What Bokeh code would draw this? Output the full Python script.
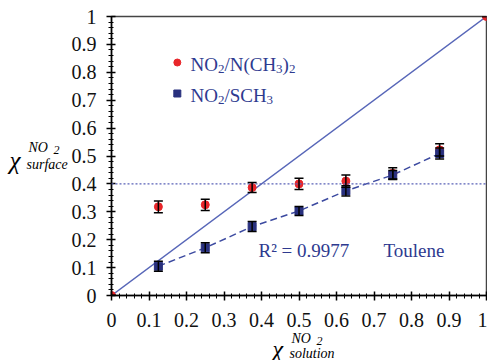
import numpy as np
from bokeh.plotting import figure
from bokeh.layouts import row, column
from bokeh.models import (Range1d, FixedTicker, ColumnDataSource, Whisker, TeeHead, Label, Span)
from bokeh.embed import file_html
from bokeh.resources import INLINE

# ---- data ----
x_red = [0.0, 0.125, 0.25, 0.375, 0.5, 0.625, 0.75, 0.875, 1.0]
y_red = [0.0, 0.318, 0.325, 0.387, 0.400, 0.410, 0.438, 0.522, 1.0]
err_red = [0.0, 0.021, 0.020, 0.018, 0.020, 0.022, 0.020, 0.022, 0.0]

x_blue = [0.125, 0.25, 0.375, 0.5, 0.625, 0.75, 0.875]
y_blue = [0.105, 0.171, 0.247, 0.303, 0.375, 0.432, 0.509]
err_blue = [0.018, 0.018, 0.018, 0.016, 0.018, 0.016, 0.020]

ideal_x = [0.0, 1.0]
ideal_y = [0.0, 1.0]
ref_level = 0.4

x_ticks = [0.0, 0.1, 0.2, 0.3, 0.4, 0.5, 0.6, 0.7, 0.8, 0.9, 1.0]
x_tick_labels = ["0", "0.1", "0.2", "0.3", "0.4", "0.5", "0.6", "0.7", "0.8", "0.9", "1"]
y_ticks = [0.0, 0.1, 0.2, 0.3, 0.4, 0.5, 0.6, 0.7, 0.8, 0.9, 1.0]
y_tick_labels = ["0", "0.1", "0.2", "0.3", "0.4", "0.5", "0.6", "0.7", "0.8", "0.9", "1"]

r2_text = "R\u00b2 = 0.9977"
solvent_text = "Toulene"

# ---- layout ----
W, H = 487, 360
YL_W = 68            # strip for the y title
XL_H = 30            # strip for the x title
MW, MH = W - YL_W, H - XL_H
L, R, T, B = 110 - YL_W, 1, 16, MH - 295
FW, FH = MW - L - R, MH - T - B

SERIF = "Liberation Serif"
NAVY = "#2e3a8f"
LINE_BLUE = "#5766b8"
RED = "#e8262a"
SQ_BLUE = "#28307e"

p = figure(width=MW, height=MH, output_backend="svg", toolbar_location=None,
           x_range=Range1d(0, 1), y_range=Range1d(0, 1),
           min_border_left=L, min_border_right=R, min_border_top=T, min_border_bottom=B)
p.grid.visible = False
p.background_fill_color = "white"
p.border_fill_color = "white"
p.outline_line_color = "#444444"
p.outline_line_width = 1.5

minor = [round(v, 2) for v in np.arange(0, 1.001, 0.02)]
p.xaxis.ticker = FixedTicker(ticks=x_ticks, minor_ticks=minor)
p.yaxis.ticker = FixedTicker(ticks=y_ticks, minor_ticks=minor)
p.xaxis.major_label_overrides = dict(zip(x_ticks, x_tick_labels))
p.yaxis.major_label_overrides = dict(zip(y_ticks, y_tick_labels))
for ax in (p.xaxis[0], p.yaxis[0]):
    ax.axis_line_color = "black"
    ax.axis_line_width = 1.5
    ax.major_tick_line_color = "black"
    ax.minor_tick_line_color = "black"
    ax.major_tick_line_width = 1.5
    ax.minor_tick_line_width = 1
    ax.major_tick_in = 4
    ax.major_tick_out = 5
    ax.minor_tick_in = 2
    ax.minor_tick_out = 3
    ax.major_label_text_font = SERIF
    ax.major_label_text_font_size = "20px"
    ax.major_label_text_color = "#111111"
p.xaxis.major_label_standoff = 12
p.yaxis.major_label_standoff = 10

# reference lines
p.line(ideal_x, ideal_y, line_color=LINE_BLUE, line_width=1.5)
p.add_layout(Span(location=ref_level, dimension="width", line_color="#5a62b8",
                  line_width=1.2, line_dash="2 2"))
p.line(x_blue, y_blue, line_color="#3c4aa0", line_width=1.5, line_dash="7 4")

# points and error bars
src_r = ColumnDataSource(dict(x=x_red, y=y_red,
                              up=[a + e for a, e in zip(y_red, err_red)],
                              lo=[a - e for a, e in zip(y_red, err_red)]))
src_b = ColumnDataSource(dict(x=x_blue, y=y_blue,
                              up=[a + e for a, e in zip(y_blue, err_blue)],
                              lo=[a - e for a, e in zip(y_blue, err_blue)]))

p.scatter("x", "y", source=src_r, marker="circle", size=8, fill_color=RED, line_color=RED)
p.scatter("x", "y", source=src_b, marker="square", size=8, fill_color=SQ_BLUE, line_color=SQ_BLUE)
for s in (src_r, src_b):
    p.add_layout(Whisker(source=s, base="x", upper="up", lower="lo", dimension="height",
                         line_color="black", line_width=1.5, level="overlay",
                         upper_head=TeeHead(size=9, line_color="black", line_width=1.5),
                         lower_head=TeeHead(size=9, line_color="black", line_width=1.5)))


def dx(px):
    return (px - 110) / FW


def dy(py):
    return (295 - py) / FH


def txt(fig, s, px, py, size, color=NAVY, style="normal", ox=0, oy=0):
    fig.add_layout(Label(x=px - ox, y=py - oy, x_units="canvas", y_units="canvas", text=s,
                         text_font=SERIF, text_font_size=f"{size}px", text_color=color,
                         text_font_style=style, text_align="left", level="overlay",
                         text_baseline="alphabetic"))


# legend (page pixel positions; main figure starts at x = YL_W)
leg = ColumnDataSource(dict(x=[dx(176), dx(176)], y=[dy(62), dy(93)],
                            c=[RED, SQ_BLUE], m=["circle", "square"]))
p.scatter("x", "y", source=leg, marker="m", size=7, fill_color="c", line_color="c")

b1, b2 = 64, 95
x0 = 190
o = YL_W
txt(p, "NO", x0, b1, 19, ox=o)
txt(p, "2", x0 + 27.4, b1 + 4, 13, ox=o)
txt(p, "/N(CH", x0 + 33.9, b1, 19, ox=o)
txt(p, "3", x0 + 85.6, b1 + 4, 13, ox=o)
txt(p, ")", x0 + 92.1, b1, 19, ox=o)
txt(p, "2", x0 + 98.4, b1 + 4, 13, ox=o)

txt(p, "NO", x0, b2, 19, ox=o)
txt(p, "2", x0 + 27.4, b2 + 4, 13, ox=o)
txt(p, "/SCH", x0 + 33.9, b2, 19, ox=o)
txt(p, "3", x0 + 76.1, b2 + 4, 13, ox=o)

txt(p, r2_text, 258, 250, 19, ox=o)
txt(p, solvent_text, 383, 250, 19, ox=o)

# y title strip
fy = figure(width=YL_W, height=H, output_backend="svg", toolbar_location=None,
            x_axis_type=None, y_axis_type=None, min_border=0,
            x_range=Range1d(0, 1), y_range=Range1d(0, 1))
fy.outline_line_color = None
fy.grid.visible = False
txt(fy, "\u03c7", 9, 160, 25, color="black", style="italic")
txt(fy, "NO", 28, 147, 14, color="black", style="italic")
txt(fy, "2", 53, 149, 12, color="black", style="italic")
txt(fy, "surface", 26, 164, 14, color="black", style="italic")

# x title strip
fx = figure(width=MW, height=XL_H, output_backend="svg", toolbar_location=None,
            x_axis_type=None, y_axis_type=None, min_border=0,
            x_range=Range1d(0, 1), y_range=Range1d(0, 1))
fx.outline_line_color = None
fx.grid.visible = False
txt(fx, "\u03c7", 272, 348, 24, color="black", style="italic", ox=YL_W, oy=MH)
txt(fx, "NO", 291, 338, 14, color="black", style="italic", ox=YL_W, oy=MH)
txt(fx, "2", 316, 340, 12, color="black", style="italic", ox=YL_W, oy=MH)
txt(fx, "solution", 289, 353, 14, color="black", style="italic", ox=YL_W, oy=MH)

layout = row(fy, column(p, fx, spacing=0), spacing=0)
open("out.html", "w").write(file_html(layout, INLINE))
